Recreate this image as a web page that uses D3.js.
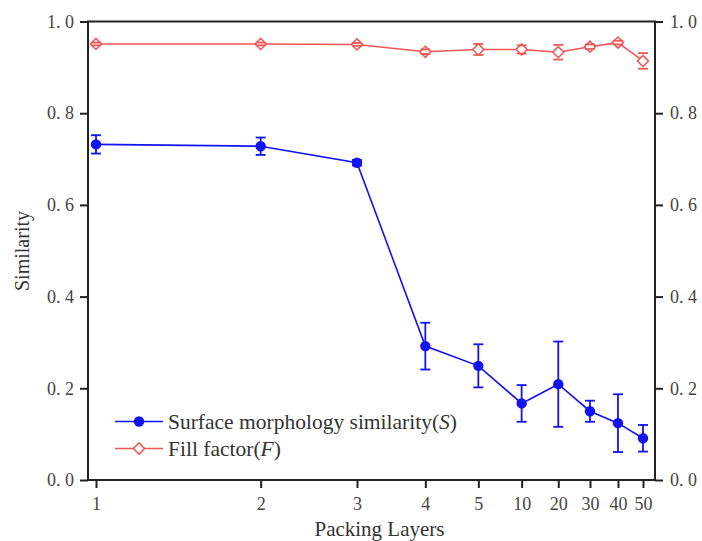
<!DOCTYPE html>
<html>
<head>
<meta charset="utf-8">
<script src="https://cdn.jsdelivr.net/npm/d3@7/dist/d3.min.js"></script>
<style>
  html, body { margin: 0; padding: 0; background: #fff; }
  svg { display: block; }
</style>
</head>
<body>
<svg id="chart" width="702" height="541"></svg>
<script>
// Packing layer categories and their position index on the log axis
const layers = ["1", "2", "3", "4", "5", "10", "20", "30", "40", "50"];
const layerIndex = [1, 2, 3, 4, 5, 6, 7, 8, 9, 10];

// Surface morphology similarity (S): mean and error
const sMean = [0.732, 0.728, 0.692, 0.292, 0.249, 0.167, 0.209, 0.150, 0.124, 0.091];
const sErr  = [0.020, 0.019, 0.006, 0.051, 0.047, 0.040, 0.093, 0.023, 0.063, 0.029];

// Fill factor (F): mean and error
const fMean = [0.951, 0.951, 0.950, 0.934, 0.939, 0.939, 0.933, 0.945, 0.954, 0.914];
const fErr  = [0.003, 0.003, 0.003, 0.005, 0.012, 0.009, 0.016, 0.005, 0.004, 0.017];

const yTicks = [0, 0.2, 0.4, 0.6, 0.8, 1.0];

const blue = "#1212f2";
const red = "#f05656";
const serif = "'Liberation Serif', 'DejaVu Serif', serif";

const svg = d3.select("#chart");
const frame = { left: 88, right: 655, top: 21.5, bottom: 480 };

const x = d3.scaleLog().domain([1, 10]).range([96, 643]);
const y = d3.scaleLinear().domain([0, 1]).range([frame.bottom, frame.top]);

const fmt = d => d3.format(".1f")(d).replace(".", ". ");

function styleAxis(g) {
  g.select(".domain").remove();
  g.attr("font-family", serif).attr("font-size", 18);
  g.selectAll(".tick text").attr("fill", "#444").attr("font-size", 18);
  g.selectAll(".tick line").attr("stroke", "#222").attr("stroke-width", 2);
}

// Axes
svg.append("g")
  .attr("transform", `translate(${frame.left},0)`)
  .call(d3.axisLeft(y).tickValues(yTicks).tickFormat(fmt).tickSize(8).tickPadding(6))
  .call(styleAxis);

svg.append("g")
  .attr("transform", `translate(${frame.right},0)`)
  .call(d3.axisRight(y).tickValues(yTicks).tickFormat(fmt).tickSize(8).tickPadding(7))
  .call(styleAxis);

svg.append("g")
  .attr("transform", `translate(0,${frame.bottom})`)
  .call(d3.axisBottom(x).tickValues(layerIndex).tickFormat((d, i) => layers[i]).tickSize(8).tickPadding(9))
  .call(styleAxis);

// Plot frame
svg.append("rect")
  .attr("x", frame.left).attr("y", frame.top)
  .attr("width", frame.right - frame.left).attr("height", frame.bottom - frame.top)
  .attr("fill", "none").attr("stroke", "#222").attr("stroke-width", 2);

// Axis titles
svg.append("text")
  .attr("x", (frame.left + frame.right) / 2 + 8).attr("y", 536)
  .attr("text-anchor", "middle")
  .attr("font-family", serif).attr("font-size", 21).attr("fill", "#333")
  .text("Packing Layers");

svg.append("text")
  .attr("transform", `translate(29,251) rotate(-90)`)
  .attr("text-anchor", "middle")
  .attr("font-family", serif).attr("font-size", 20).attr("fill", "#333")
  .text("Similarity");

const line = d3.line().x(d => x(d.i)).y(d => y(d.v));

function drawSeries(means, errs, color, marker) {
  const data = means.map((v, k) => ({ i: layerIndex[k], v, e: errs[k] }));
  const g = svg.append("g");
  g.append("path").datum(data)
    .attr("d", line).attr("fill", "none").attr("stroke", color).attr("stroke-width", 1.6);

  const caps = sel => sel.selectAll(".cap")
    .data(d => [d.v + d.e, d.v - d.e].map(v => ({ i: d.i, v })))
    .enter().append("line")
    .attr("x1", d => x(d.i) - 5).attr("x2", d => x(d.i) + 5)
    .attr("y1", d => y(d.v)).attr("y2", d => y(d.v))
    .attr("stroke", color).attr("stroke-width", 1.8);

  if (marker === "circle") {
    const eb = g.selectAll(".eb").data(data).enter().append("g");
    eb.append("line")
      .attr("x1", d => x(d.i)).attr("x2", d => x(d.i))
      .attr("y1", d => y(d.v + d.e)).attr("y2", d => y(d.v - d.e))
      .attr("stroke", color).attr("stroke-width", 1.8);
    caps(eb);
    g.selectAll(".pt").data(data).enter().append("circle")
      .attr("cx", d => x(d.i)).attr("cy", d => y(d.v)).attr("r", 5.2)
      .attr("fill", color);
  } else {
    // hollow diamonds sit under the error caps
    g.selectAll(".pt").data(data).enter().append("path")
      .attr("transform", d => `translate(${x(d.i)},${y(d.v)}) rotate(45)`)
      .attr("d", d3.symbol(d3.symbolSquare, 62)())
      .attr("fill", "#fff").attr("stroke", color).attr("stroke-width", 1.5);
    const eb = g.selectAll(".eb").data(data).enter().append("g");
    caps(eb);
  }
}

drawSeries(fMean, fErr, red, "diamond");
drawSeries(sMean, sErr, blue, "circle");

// Legend
const legend = svg.append("g");
const items = [
  { color: blue, marker: "circle", label: ["Surface morphology similarity(", "S", ")"] },
  { color: red, marker: "diamond", label: ["Fill factor(", "F", ")"] }
];
items.forEach((it, k) => {
  const ly = 421.5 + k * 27;
  legend.append("line").attr("x1", 115).attr("x2", 163).attr("y1", ly).attr("y2", ly)
    .attr("stroke", it.color).attr("stroke-width", 1.6);
  if (it.marker === "circle") {
    legend.append("circle").attr("cx", 139).attr("cy", ly).attr("r", 5.2).attr("fill", it.color);
  } else {
    legend.append("path").attr("transform", `translate(139,${ly}) rotate(45)`)
      .attr("d", d3.symbol(d3.symbolSquare, 62)())
      .attr("fill", "#fff").attr("stroke", it.color).attr("stroke-width", 1.5);
  }
  const t = legend.append("text").attr("x", 168).attr("y", ly + 7)
    .attr("font-family", serif).attr("font-size", 21.5).attr("fill", "#333");
  t.append("tspan").text(it.label[0]);
  t.append("tspan").attr("font-style", "italic").text(it.label[1]);
  t.append("tspan").text(it.label[2]);
});
</script>
</body>
</html>
